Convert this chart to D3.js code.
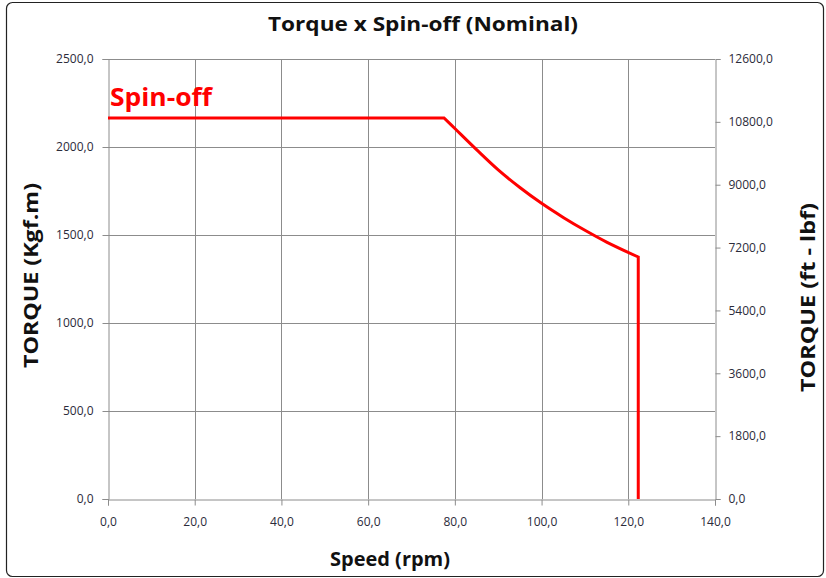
<!DOCTYPE html>
<html>
<head>
<meta charset="utf-8">
<script src="https://cdn.jsdelivr.net/npm/d3@7"></script>
<style>
  html, body { margin: 0; padding: 0; background: #fff; }
  svg { display: block; }
  text { font-family: "Open Sans", "Noto Sans", sans-serif; }
</style>
</head>
<body>
<svg id="chart" width="826" height="578"></svg>
<script>
// Spin-off torque curve: speed (rpm) vs torque (kgf.m)
const flatSpeed  = [0, 77.5];
const flatTorque = [2165, 2165];
const dropSpeed  = [77.5, 80, 85, 90, 95, 100, 105, 110, 115, 122.3];
const dropTorque = [2165, 2105, 1985, 1870, 1770, 1680, 1600, 1527, 1460, 1375];
const cutSpeed   = [122.3, 122.3];
const cutTorque  = [1375, 0];

const xTicks = [0, 20, 40, 60, 80, 100, 120, 140];
const yTicks = [0, 500, 1000, 1500, 2000, 2500];
const y2Ticks = [0, 1800, 3600, 5400, 7200, 9000, 10800, 12600];

const fmt = d => d3.format(".1f")(d).replace(".", ",");

const svg = d3.select("#chart");
const W = 826, H = 578;
const m = { left: 108, right: 715, top: 59, bottom: 499 };

// outer frame
svg.append("rect")
  .attr("x", 6.5).attr("y", 2.5)
  .attr("width", W - 9).attr("height", H - 4)
  .attr("rx", 6).attr("ry", 6)
  .attr("fill", "#fff").attr("stroke", "#222").attr("stroke-width", 1.2);

const x = d3.scaleLinear().domain([0, 140]).range([m.left, m.right]);
const y = d3.scaleLinear().domain([0, 2500]).range([m.bottom, m.top]);
const y2 = d3.scaleLinear().domain([0, 12600]).range([m.bottom, m.top]);

const gridColor = "#8c8c8c";

// gridlines
svg.append("g").selectAll("line").data(xTicks.slice(1, -1)).join("line")
  .attr("x1", d => Math.round(x(d)) + 0.5).attr("x2", d => Math.round(x(d)) + 0.5)
  .attr("y1", m.top).attr("y2", m.bottom)
  .attr("stroke", gridColor).attr("stroke-width", 1);
svg.append("g").selectAll("line").data(yTicks.slice(1)).join("line")
  .attr("x1", m.left).attr("x2", m.right)
  .attr("y1", d => Math.round(y(d)) + 0.5).attr("y2", d => Math.round(y(d)) + 0.5)
  .attr("stroke", gridColor).attr("stroke-width", 1);

function styleAxis(g) {
  g.selectAll(".domain").attr("stroke", gridColor);
  g.selectAll(".tick line").attr("stroke", gridColor);
  g.selectAll(".tick text")
    .attr("fill", "#2b2b3a")
    .style("font-size", "12px")
    .style("font-family", "\"Open Sans\", sans-serif");
}

svg.append("g")
  .attr("transform", `translate(0,${m.bottom + 0.5})`)
  .call(d3.axisBottom(x).tickValues(xTicks).tickFormat(fmt).tickSizeOuter(0).tickSize(6).tickPadding(12))
  .call(styleAxis);

svg.append("g")
  .attr("transform", `translate(${m.left + 0.5},0)`)
  .call(d3.axisLeft(y).tickValues(yTicks).tickFormat(fmt).tickSizeOuter(0).tickSize(6).tickPadding(9))
  .call(styleAxis);

svg.append("g")
  .attr("transform", `translate(${m.right + 0.5},0)`)
  .call(d3.axisRight(y2).tickValues(y2Ticks).tickFormat(fmt).tickSizeOuter(0).tickSize(5).tickPadding(8))
  .call(styleAxis);

// torque curve: flat plateau, smooth fall-off, vertical cut-off as one path
const linear = d3.line().x(d => x(d[0])).y(d => y(d[1]));
const smooth = d3.line().x(d => x(d[0])).y(d => y(d[1])).curve(d3.curveCatmullRom.alpha(0.5));
const flatD = linear(flatSpeed.map((s, i) => [s, flatTorque[i]]));
const dropD = smooth(dropSpeed.map((s, i) => [s, dropTorque[i]])).replace(/^M/, "L");
const cutD  = linear(cutSpeed.map((s, i) => [s, cutTorque[i]])).replace(/^M/, "L");
svg.append("path")
  .attr("d", flatD + dropD + cutD)
  .attr("fill", "none")
  .attr("stroke", "#ff0000")
  .attr("stroke-width", 3)
  .attr("stroke-linejoin", "miter");

// series label
svg.append("text")
  .attr("x", 110).attr("y", 106)
  .attr("fill", "#ff0000")
  .attr("textLength", 102).attr("lengthAdjust", "spacingAndGlyphs")
  .style("font-size", "25px").style("font-weight", "bold")
  .text("Spin-off");

// titles
svg.append("text")
  .attr("x", 268).attr("y", 31)
  .attr("fill", "#111")
  .attr("textLength", 310).attr("lengthAdjust", "spacingAndGlyphs")
  .style("font-size", "20px").style("font-weight", "bold")
  .text("Torque x Spin-off (Nominal)");

svg.append("text")
  .attr("x", 330).attr("y", 566)
  .attr("fill", "#111")
  .attr("textLength", 120).attr("lengthAdjust", "spacingAndGlyphs")
  .style("font-size", "20px").style("font-weight", "bold")
  .text("Speed (rpm)");

svg.append("text")
  .attr("transform", "translate(38,368) rotate(-90)")
  .attr("fill", "#111")
  .attr("textLength", 185).attr("lengthAdjust", "spacingAndGlyphs")
  .style("font-size", "20px").style("font-weight", "bold")
  .text("TORQUE (Kgf.m)");

svg.append("text")
  .attr("transform", "translate(815,392) rotate(-90)")
  .attr("fill", "#111")
  .attr("textLength", 189).attr("lengthAdjust", "spacingAndGlyphs")
  .style("font-size", "20px").style("font-weight", "bold")
  .text("TORQUE (ft - lbf)");
</script>
</body>
</html>
